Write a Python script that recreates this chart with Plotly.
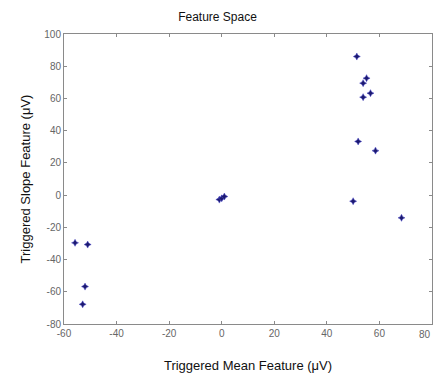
import plotly.graph_objects as go

mean_feature = [51.4, 55.1, 53.8, 56.6, 53.8, 51.9, 58.5, 50.0, 68.4,
                -0.9, 0.0, 1.0,
                -55.8, -51.0, -52.0, -52.9]
slope_feature = [86.0, 72.6, 69.5, 63.3, 60.8, 33.3, 27.6, -3.8, -14.1,
                 -2.8, -2.0, -0.9,
                 -29.6, -30.7, -56.8, -67.8]

x_ticks = [-60, -40, -20, 0, 20, 40, 60, 80]
x_tick_labels = ["-60", "-40", "-20", "0", "20", "40", "60", "80"]
y_ticks = [-80, -60, -40, -20, 0, 20, 40, 60, 80, 100]
y_tick_labels = ["-80", "-60", "-40", "-20", "0", "20", "40", "60", "80", "100"]

font = "Liberation Sans, Arial, sans-serif"
tick_font = dict(family=font, size=10, color="#666666")

fig = go.Figure()
fig.add_trace(go.Scatter(
    x=mean_feature, y=slope_feature, mode="markers",
    marker=dict(symbol="star-diamond", size=5, color="#1c1a70",
                line=dict(width=0.5, color="#4a48c8")),
    showlegend=False,
))

axis_common = dict(
    showgrid=False, zeroline=False, showline=True, linecolor="#8a8a8a",
    linewidth=1, mirror="ticks", ticks="inside", ticklen=3,
    tickcolor="#8a8a8a", tickfont=tick_font,
)

fig.update_layout(
    width=435, height=377,
    margin=dict(l=64, r=3, t=34, b=53),
    paper_bgcolor="white", plot_bgcolor="white",
    title=dict(text="Feature Space", x=0.5, xanchor="center", y=1 - 17/377,
               yanchor="middle", font=dict(family=font, size=12, color="#111111")),
    xaxis=dict(range=[-60, 80], tickvals=x_ticks[:-1], ticktext=x_tick_labels[:-1],
               title=dict(text="Triggered Mean Feature (μV)", standoff=22,
                          font=dict(family=font, size=13, color="#111111")),
               **axis_common),
    yaxis=dict(range=[-80, 100], tickvals=y_ticks, ticktext=y_tick_labels,
               title=dict(text="Triggered Slope Feature (μV)", standoff=10,
                          font=dict(family=font, size=13, color="#111111")),
               **axis_common),
)

# last x tick label sits at the right edge of the figure; keep it inside
fig.add_annotation(x=x_ticks[-1], y=0, xref="x", yref="paper",
                   text=x_tick_labels[-1], showarrow=False, xanchor="right",
                   xshift=1, yanchor="top", yshift=-3, font=tick_font)

fig.write_html("out.html")
